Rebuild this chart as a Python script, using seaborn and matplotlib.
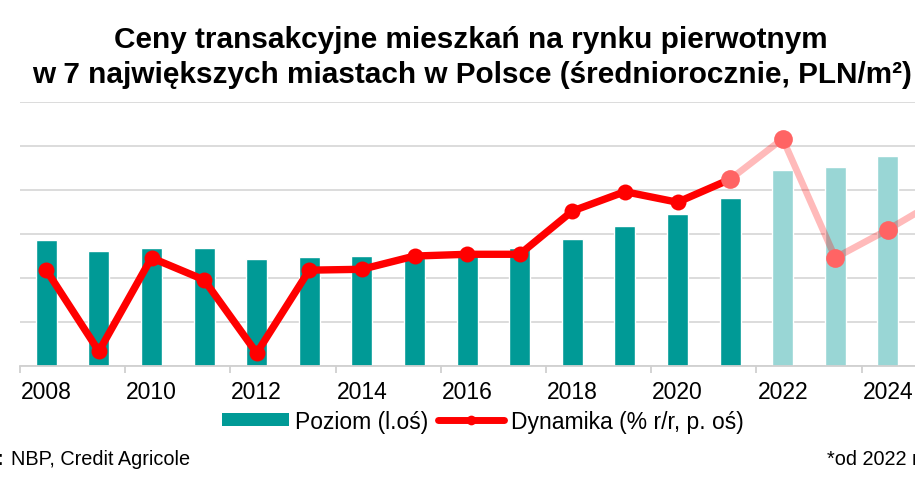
import numpy as np
import pandas as pd
import matplotlib
matplotlib.use("Agg")
import matplotlib.pyplot as plt
from matplotlib.patches import Patch
from matplotlib.lines import Line2D
import seaborn as sns

# ---- data ----
years = [2008, 2009, 2010, 2011, 2012, 2013, 2014, 2015, 2016,
         2017, 2018, 2019, 2020, 2021, 2022, 2023, 2024, 2025]
level = [7140, 6550, 6720, 6720, 6110, 6170, 6250, 6300, 6360,
         6720, 7230, 7930, 8610, 9560, 11100, 11320, 11950, 12600]
kind = ["hist"] * 14 + ["fcst"] * 4
hist_years = [2008, 2009, 2010, 2011, 2012, 2013, 2014, 2015, 2016,
              2017, 2018, 2019, 2020, 2021]
hist_dyn = [0.9, -8.3, 2.3, -0.2, -8.5, 0.9, 1.0, 2.5, 2.7,
            2.7, 7.6, 9.8, 8.6, 11.2]
fc_years = [2021, 2022, 2023, 2024, 2025]
fc_dyn = [11.2, 15.8, 2.3, 5.5, 9.0]
tick_years = [2008, 2010, 2012, 2014, 2016, 2018, 2020, 2022, 2024]

title1 = "Ceny transakcyjne mieszkań na rynku pierwotnym"
title2 = "w 7 największych miastach w Polsce (średniorocznie, PLN/m²)"
leg_labels = ["Poziom (l.oś)", "Dynamika (% r/r, p. oś)"]

TEAL = "#009A96"
LIGHT_TEAL = "#99D6D5"
RED = "#FF0000"
PINK_MARK = "#FF6464"

sns.set_theme(style="white")
plt.rcParams["font.family"] = ["Liberation Sans", "DejaVu Sans"]
plt.rcParams["text.color"] = "black"
plt.rcParams["xtick.color"] = "black"

W, H = 915, 481
fig = plt.figure(figsize=(W / 100, H / 100), dpi=100)

x0, x1 = 20, 20 + 18 * 52.6
ytop, ybot = 102.7, 367.3
ax = fig.add_axes([x0 / W, 1 - ybot / H, (x1 - x0) / W, (ybot - ytop) / H])

df = pd.DataFrame({"year": years, "level": level, "kind": kind})
sns.barplot(data=df, x="year", y="level", hue="kind",
            palette={"hist": TEAL, "fcst": LIGHT_TEAL},
            native_scale=True, width=0.40, dodge=False, legend=False,
            saturation=1, ax=ax)

ax.set_xlim(2007.5, 2025.5)
ax.set_ylim(0, 15000)
ax.set_yticks(np.arange(0, 15001, 2500))
ax.set_yticklabels([])
ax.tick_params(axis="y", length=0)
ax.yaxis.grid(True, color="#D9D9D9", lw=1.3)
ax.xaxis.grid(False)
ax.set_axisbelow(True)
for s in ["top", "left", "right"]:
    ax.spines[s].set_visible(False)
ax.spines["bottom"].set_color("#D0D0D0")
ax.spines["bottom"].set_linewidth(1.3)

ax.set_xticks(tick_years)
ax.set_xticklabels([str(y) for y in tick_years], fontsize=16.5, color="black")
ax.set_xticks(np.arange(2007.5, 2026, 2), minor=True)
ax.tick_params(axis="x", which="major", length=0, pad=10, labelcolor="black")
ax.tick_params(axis="x", which="minor", length=5, width=1.3, color="#D0D0D0",
               direction="out", bottom=True)
ax.set_xlabel("")
ax.set_ylabel("")

ax2 = ax.twinx()
ax2.set_ylim(-10, 20)
sns.lineplot(x=fc_years, y=fc_dyn, ax=ax2, color=RED, alpha=0.27, lw=4.8)
sns.lineplot(x=hist_years, y=hist_dyn, ax=ax2, color=RED, lw=5.3,
             marker="o", markersize=11.5, markeredgewidth=0)
sns.scatterplot(x=fc_years, y=fc_dyn, ax=ax2, color=PINK_MARK, s=13.5 ** 2,
                linewidth=0, zorder=5)
ax2.set_yticks([])
ax2.set_ylabel("")
for s in ax2.spines.values():
    s.set_visible(False)
ax2.grid(False)

# titles
fig.text(471 / W, 1 - 47.5 / H, title1, ha="center", va="baseline",
         fontsize=21.4, fontweight="bold", color="black")
fig.text(472 / W, 1 - 83 / H, title2, ha="center", va="baseline",
         fontsize=21.4, fontweight="bold", color="black")

# legend
handles = [Patch(facecolor=TEAL, edgecolor="none"),
           Line2D([], [], color=RED, lw=5, marker="o", markersize=7,
                  markeredgewidth=0)]
leg = fig.legend(handles, leg_labels, loc="center",
                 bbox_to_anchor=(483 / W, 1 - 422 / H),
                 ncol=2, frameon=False, fontsize=16.5, handlelength=2.9,
                 handleheight=0.5, handletextpad=0.3, columnspacing=0.4,
                 borderpad=0, borderaxespad=0)
for t in leg.get_texts():
    t.set_color("black")

# source / note
fig.text(4.5 / W, 1 - 465.5 / H, "Źródło:", ha="right", va="baseline",
         fontsize=14.3, fontweight="bold", color="black")
fig.text(10.7 / W, 1 - 465.5 / H, "NBP, Credit Agricole", ha="left",
         va="baseline", fontsize=14.3, color="black")
fig.text(827 / W, 1 - 465.5 / H, "*od 2022 r. prognozy", ha="left",
         va="baseline", fontsize=14.3, color="black")

fig.savefig("out.png", dpi=100)
